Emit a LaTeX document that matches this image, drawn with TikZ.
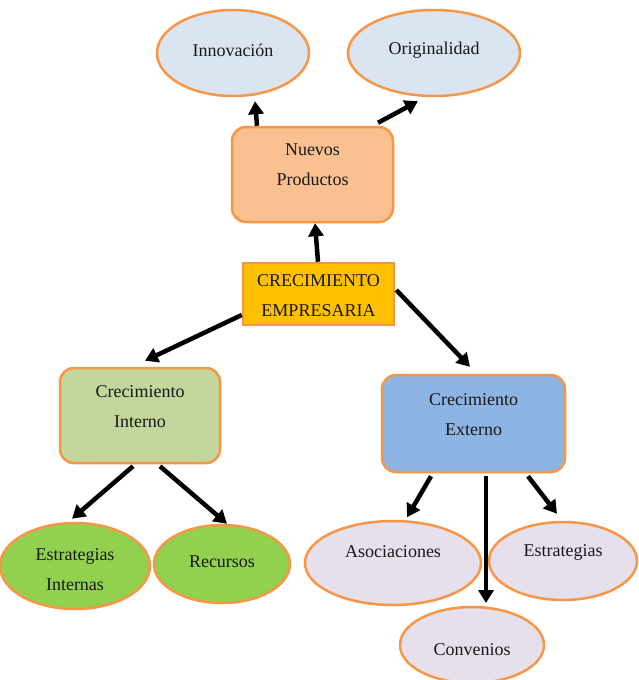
\documentclass[tikz,border=0pt]{standalone}
\usepackage{fontspec}
\setmainfont{Liberation Serif}
\usetikzlibrary{shapes.geometric,arrows.meta}
\definecolor{bord}{RGB}{247,150,70}
\definecolor{lblue}{RGB}{219,229,241}
\definecolor{lorange}{RGB}{250,192,144}
\definecolor{gold}{RGB}{255,192,0}
\definecolor{lgreen}{RGB}{195,214,155}
\definecolor{green}{RGB}{146,208,80}
\definecolor{mblue}{RGB}{141,180,226}
\definecolor{lav}{RGB}{230,224,236}
\begin{document}
\begin{tikzpicture}[x=1pt,y=-1pt,
  every node/.style={font=\fontsize{18}{30}\selectfont, text=black!90},
  ell/.style={ellipse,draw=bord,line width=2.5pt,inner sep=0pt},
  rbox/.style={rectangle,rounded corners=14pt,draw=bord,line width=2.5pt,inner sep=0pt},
  sbox/.style={rectangle,draw=bord,line width=2.5pt,inner sep=0pt},
  lbl/.style={align=center,inner sep=0pt},
  arr/.style={line width=4.5pt,-{Triangle[length=13pt,width=15pt]}}]
\useasboundingbox (0,0) rectangle (638,680);
% nodes
\node[ell,fill=lblue,minimum width=152pt,minimum height=86pt,
  label={[lbl,yshift=3pt]center:Innovación}] (inn) at (233,53) {};
\node[ell,fill=lblue,minimum width=172pt,minimum height=86pt,
  label={[lbl,yshift=3pt]center:Originalidad}] (ori) at (434,53) {};
\node[rbox,fill=lorange,minimum width=161pt,minimum height=95pt,
  label={[lbl,yshift=9.5pt]center:{Nuevos\\Productos}}] (np) at (312.5,174.5) {};
\node[sbox,fill=gold,minimum width=151pt,minimum height=62pt,
  label={[lbl,yshift=-2pt]center:{CRECIMIENTO\\EMPRESARIA}}] (ce) at (318.5,294) {};
\node[rbox,fill=lgreen,minimum width=160pt,minimum height=95pt,
  label={[lbl,yshift=8.5pt]center:{Crecimiento\\Interno}}] (ci) at (140,415.5) {};
\node[rbox,fill=mblue,minimum width=183pt,minimum height=97pt,
  label={[lbl,yshift=8.5pt]center:{Crecimiento\\Externo}}] (cx) at (473.5,423.5) {};
\node[ell,fill=green,minimum width=150pt,minimum height=86pt,
  label={[lbl,yshift=-4pt]center:{Estrategias\\Internas}}] (ei) at (75,566) {};
\node[ell,fill=green,minimum width=136pt,minimum height=78pt,
  label={[lbl,yshift=2pt]center:Recursos}] (rec) at (222,564) {};
\node[ell,fill=lav,minimum width=176pt,minimum height=84pt,
  label={[lbl,yshift=11pt]center:Asociaciones}] (aso) at (393,563) {};
\node[ell,fill=lav,minimum width=148pt,minimum height=78pt,
  label={[lbl,yshift=9pt]center:Estrategias}] (est) at (563,561) {};
\node[ell,fill=lav,minimum width=144pt,minimum height=76pt,
  label={[lbl,yshift=-5pt]center:Convenios}] (con) at (472,645) {};
% connectors
\draw[arr] ([xshift=-0.5pt]ce.north) -- ([xshift=2.5pt]np.south);
\draw[arr] ([xshift=-55.5pt]np.north) -- ([xshift=22pt,yshift=-4pt]inn.south);
\draw[arr] ([xshift=65.5pt,yshift=3pt]np.north) -- ([xshift=-16pt,yshift=-4pt]ori.south);
\draw[arr] ([yshift=-21pt]ce.west) -- ([xshift=5pt,yshift=6pt]ci.north);
\draw[arr] ([xshift=1pt,yshift=4pt]ce.east) -- ([xshift=-3.5pt,yshift=7pt]cx.north);
\draw[arr] ([xshift=-7pt,yshift=-2pt]ci.south) -- ([xshift=-3pt,yshift=3pt]ei.north);
\draw[arr] ([xshift=20pt,yshift=-2pt]ci.south) -- ([xshift=5pt,yshift=0pt]rec.north);
\draw[arr] ([xshift=-42.5pt,yshift=-3pt]cx.south) -- ([xshift=14pt,yshift=2.5pt]aso.north);
\draw[arr] ([xshift=12.5pt,yshift=-3pt]cx.south) -- ([xshift=14pt,yshift=2.7pt]con.north);
\draw[arr] ([xshift=54.5pt,yshift=-3pt]cx.south) -- ([xshift=-6pt,yshift=7pt]est.north);
\end{tikzpicture}
\end{document}
